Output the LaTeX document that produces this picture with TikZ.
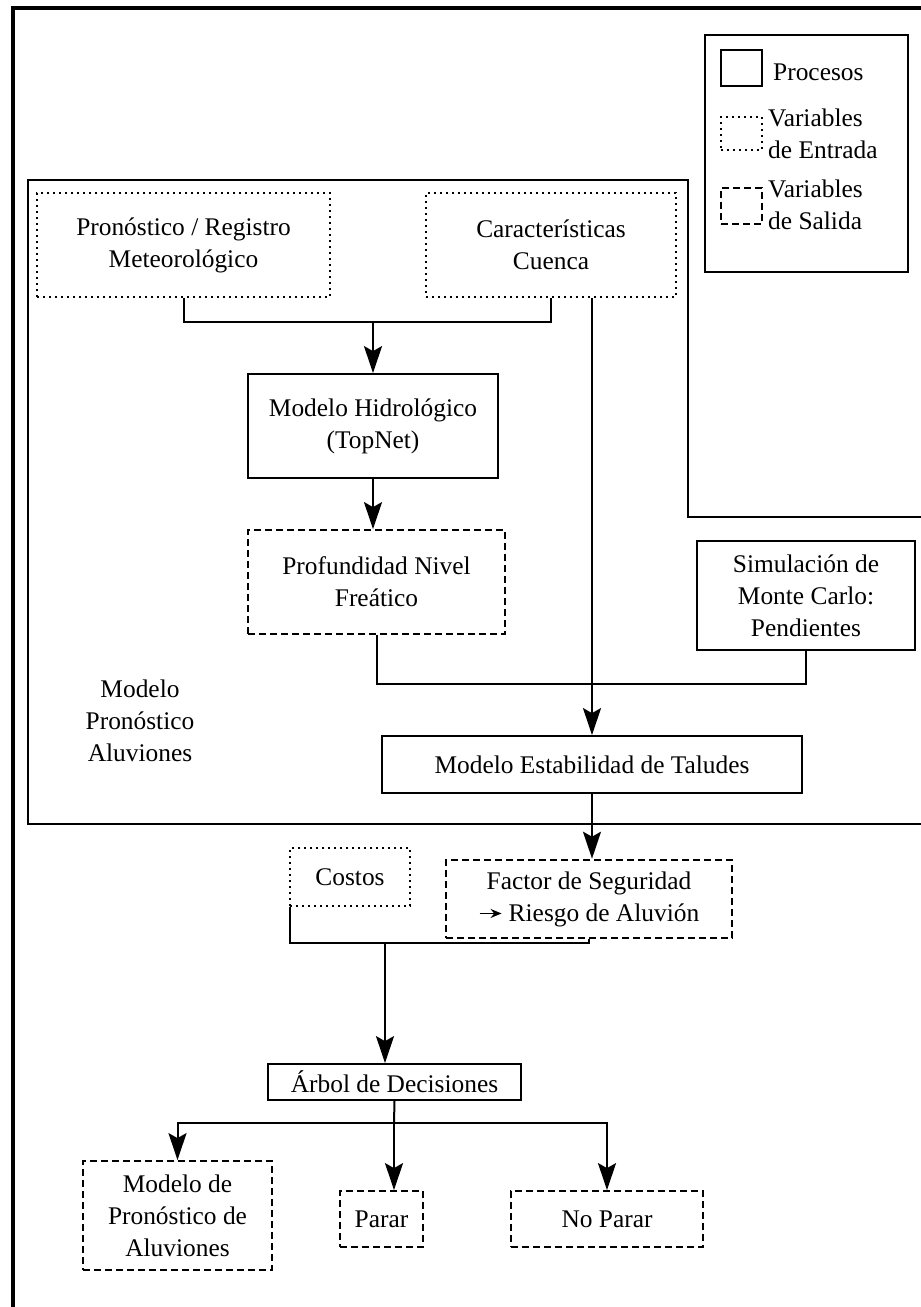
\documentclass[tikz,border=0pt]{standalone}
\usepackage{fontspec}
\setmainfont{Liberation Serif}
\usetikzlibrary{arrows.meta}
\begin{document}
\begin{tikzpicture}[x=1pt,y=-1pt,
  every node/.style={font=\fontsize{25.4}{32}\selectfont},
  base/.style={draw, line width=1.8pt, inner sep=0pt, align=center},
  proc/.style={base},
  inp/.style={base, line width=2pt, dash pattern=on 2pt off 4pt},
  outp/.style={base, dash pattern=on 7pt off 4pt},
  conn/.style={line width=2pt},
  arr/.style={line width=2pt, -{Stealth[length=27pt,width=18pt,inset=5pt]}}]
\useasboundingbox (0,0) rectangle (921,1307);
% frames
\draw[line width=4pt] (921,8) -- (13,8) -- (13,1307);
\draw[line width=2.5pt] (921,517) -- (688,517) -- (688,180) -- (28,180) -- (28,824) -- (921,824);
% legend
\node[draw, line width=2pt, minimum width=203pt, minimum height=237pt, inner sep=0pt] (leg) at (806.5,153.5) {};
\node[proc, minimum width=41pt, minimum height=36pt] (lp) at (741.5,68) {};
\node[inp, minimum width=41pt, minimum height=33pt] (li) at (741.5,133.5) {};
\node[outp, minimum width=41pt, minimum height=36pt] (lo) at (741.5,206) {};
\node[anchor=west, inner sep=0pt] (lpt) at (773,72) {Procesos};
\node[anchor=west, inner sep=0pt, align=left] (lit) at (768,134) {Variables\\de Entrada};
\node[anchor=west, inner sep=0pt, align=left] (lot) at (768,205) {Variables\\de Salida};
% nodes
\node[inp, minimum width=293pt, minimum height=104pt] (pron) at (183.5,245) {Pronóstico / Registro\\Meteorológico};
\node[inp, minimum width=250pt, minimum height=104pt] (cuen) at (551,245) {Características\\Cuenca};
\node[proc, minimum width=250pt, minimum height=104pt] (hidro) at (373,426) {Modelo Hidrológico\\(TopNet)};
\node[outp, minimum width=257pt, minimum height=104pt] (prof) at (376.5,582) {Profundidad Nivel\\Freático};
\node[proc, minimum width=218pt, minimum height=109pt] (sim) at (806,595.5) {Simulación de\\Monte Carlo:\\Pendientes};
\node[proc, minimum width=420pt, minimum height=57pt] (estab) at (592,764.5) {Modelo Estabilidad de Taludes};
\node[align=center, inner sep=0pt] (lab) at (140,721) {Modelo\\Pronóstico\\Aluviones};
\node[outp, line width=2.6pt, minimum width=286pt, minimum height=78pt] (factor) at (589,899) {Factor de Seguridad\\\tikz[baseline=-0.3em]\draw[line width=1.6pt,-{Stealth[length=11pt,width=9pt]}] (0,0) -- (22pt,0);\ Riesgo de Aluvión};
\node[inp, minimum width=120pt, minimum height=58pt] (costos) at (350,877) {Costos};
\node[proc, minimum width=253pt, minimum height=36pt] (arbol) at (394.5,1082) {Árbol de Decisiones};
\node[outp, minimum width=189pt, minimum height=109pt] (mpa) at (177.5,1215.5) {Modelo de\\Pronóstico de\\Aluviones};
\node[outp, minimum width=83pt, minimum height=56pt] (parar) at (381.5,1219) {Parar};
\node[outp, minimum width=192pt, minimum height=56pt] (noparar) at (607,1219) {No Parar};
% connectors
\coordinate (j1) at (373,322);
\draw[conn] (pron.south) |- (j1) -| (cuen.south);
\draw[arr] (j1) -- (hidro.north);
\draw[arr] (estab.north |- cuen.south) -- (estab.north);
\draw[arr] (hidro.south) -- (hidro.south |- prof.north);
\coordinate (j2) at (592,684);
\draw[conn] (prof.south) |- (j2) -| (sim.south);
\draw[arr] (estab.south) -- (estab.south |- factor.north);
\coordinate (j3) at (385,943);
\draw[conn] ([xshift=1pt]costos.south west) |- (j3) -| (factor.south);
\draw[arr] (j3) -- (j3 |- arbol.north);
\coordinate (j4) at (394,1123);
\draw[conn] (arbol.south) -- (j4);
\draw[arr] (j4) -| (mpa.north);
\draw[arr] (j4) -| (noparar.north);
\draw[arr] (j4) -- (j4 |- parar.north);
\end{tikzpicture}
\end{document}
